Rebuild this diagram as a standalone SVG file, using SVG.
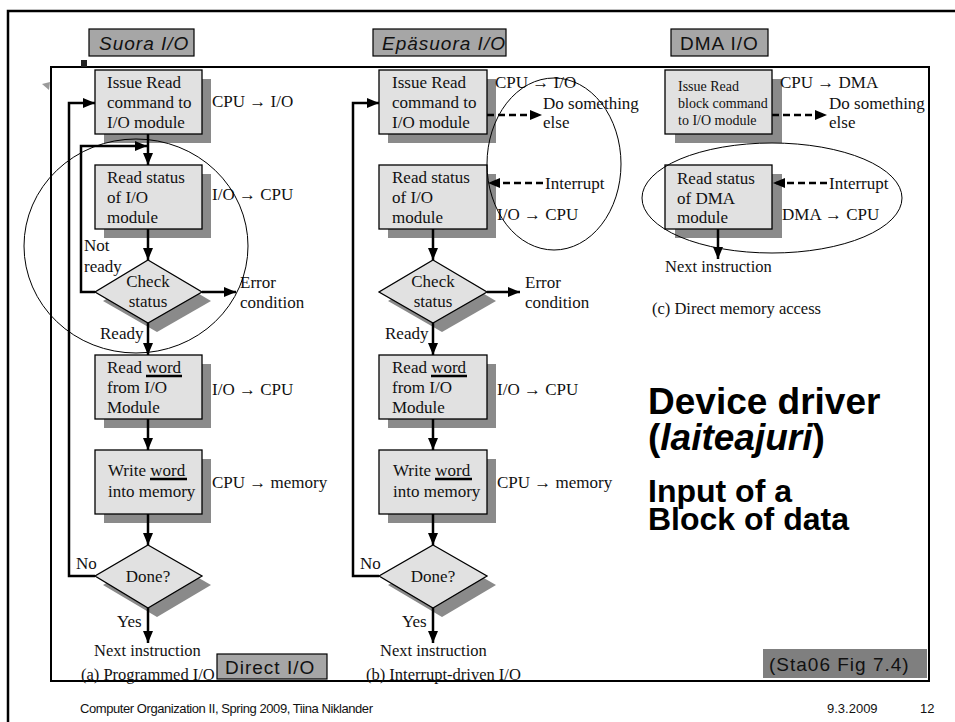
<svg xmlns="http://www.w3.org/2000/svg" width="955" height="722" viewBox="0 0 955 722">
  <style>
    .box { fill: #e1e1e1; stroke: #000; stroke-width: 1.3; }
    .shadow { fill: #8a8a8a; }
    .t { font-family: "Liberation Serif", "Times New Roman", serif; font-size: 17px; fill: #111; }
    .ts { font-family: "Liberation Serif", "Times New Roman", serif; font-size: 14px; fill: #111; }
    .tm { font-family: "Liberation Serif", "Times New Roman", serif; font-size: 16.5px; fill: #111; }
    .mid { text-anchor: middle; }
    .edge { fill: none; stroke: #000; stroke-width: 2.5; }
    .dash { fill: none; stroke: #000; stroke-width: 2.5; stroke-dasharray: 7 4; }
    .ul { stroke: #000; stroke-width: 2.5; }
    .ring { fill: none; stroke: #000; stroke-width: 1; }
    .tag { fill: #a6a6a6; stroke: #000; stroke-width: 1.2; }
    .tagtext { font-family: "Liberation Sans", Arial, sans-serif; font-size: 19px; fill: #111; letter-spacing: 1px; }
    .big { font-family: "Liberation Sans", Arial, sans-serif; font-weight: bold; fill: #000; }
    .foot { font-family: "Liberation Sans", Arial, sans-serif; font-size: 13px; fill: #111; }
  </style>
  <defs>
    <marker id="arrow" viewBox="0 0 12 10" refX="12" refY="5" markerWidth="12" markerHeight="10" markerUnits="userSpaceOnUse" orient="auto">
      <path d="M0,0 L12,5 L0,10 Z" fill="#000"/>
    </marker>
  </defs>

  <rect width="955" height="722" fill="#fff"/>

  <!-- slide border -->
  <path d="M8,722 V11 H955" fill="none" stroke="#000" stroke-width="2.5"/>
  <!-- figure frame -->
  <rect x="51" y="67" width="878" height="614" fill="none" stroke="#000" stroke-width="2"/>
  <rect x="81" y="60" width="6" height="7" fill="#222"/>
  <polygon points="42,84 50,82 49,90" fill="#9a9a9a"/>

  <!-- section tags -->
  <g id="tag-suora">
    <rect class="tag" x="89" y="29" width="105" height="27"/>
    <text class="tagtext" x="99" y="50" font-style="italic">Suora I/O</text>
  </g>
  <g id="tag-epasuora">
    <rect class="tag" x="373" y="29" width="133" height="27"/>
    <text class="tagtext" x="382" y="50" font-style="italic">Epäsuora I/O</text>
  </g>
  <g id="tag-dma">
    <rect class="tag" x="671" y="29" width="97" height="27"/>
    <text class="tagtext" x="680" y="50">DMA I/O</text>
  </g>
  <g id="tag-direct">
    <rect class="tag" x="217" y="654" width="110" height="25"/>
    <text class="tagtext" x="225" y="674">Direct I/O</text>
  </g>

  <!-- (a) programmed I/O -->
  <g id="a-issue">
    <rect class="shadow" x="104" y="79" width="107" height="64"/>
    <rect class="box" x="95" y="70" width="107" height="64"/>
    <text class="t" x="107" y="88">Issue Read</text>
    <text class="t" x="107" y="108">command to</text>
    <text class="t" x="107" y="128">I/O module</text>
  </g>
  <g id="a-status">
    <rect class="shadow" x="104" y="174" width="107" height="64"/>
    <rect class="box" x="95" y="165" width="107" height="64"/>
    <text class="t" x="107" y="183">Read status</text>
    <text class="t" x="107" y="203">of I/O</text>
    <text class="t" x="107" y="223">module</text>
  </g>
  <g id="a-check">
    <polygon class="shadow" points="157,269 211,301 157,332 103,301"/>
    <polygon class="box" points="148,260 202,292 148,323 95,292"/>
    <text class="t mid" x="148" y="287">Check</text>
    <text class="t mid" x="148" y="307">status</text>
  </g>
  <g id="a-readword">
    <rect class="shadow" x="104" y="364" width="107" height="64"/>
    <rect class="box" x="95" y="355" width="107" height="64"/>
    <text class="t" x="107" y="373">Read word</text>
    <line class="ul" x1="146" y1="376" x2="182" y2="376"/>
    <text class="t" x="107" y="393">from I/O</text>
    <text class="t" x="107" y="413">Module</text>
  </g>
  <g id="a-writeword">
    <rect class="shadow" x="104" y="459" width="107" height="64"/>
    <rect class="box" x="95" y="450" width="107" height="64"/>
    <text class="t" x="108" y="476">Write word</text>
    <line class="ul" x1="150" y1="479" x2="187" y2="479"/>
    <text class="t" x="108" y="497">into memory</text>
  </g>
  <g id="a-done">
    <polygon class="shadow" points="157,554 211,585 157,617 103,585"/>
    <polygon class="box" points="148,545 202,576 148,608 95,576"/>
    <text class="t mid" x="148" y="582">Done?</text>
  </g>

  <!-- (b) interrupt-driven I/O -->
  <g id="b-issue">
    <rect class="shadow" x="388" y="79" width="108" height="64"/>
    <rect class="box" x="379" y="70" width="108" height="64"/>
    <text class="t" x="392" y="88">Issue Read</text>
    <text class="t" x="392" y="108">command to</text>
    <text class="t" x="392" y="128">I/O module</text>
  </g>
  <g id="b-status">
    <rect class="shadow" x="388" y="174" width="108" height="64"/>
    <rect class="box" x="379" y="165" width="108" height="64"/>
    <text class="t" x="392" y="183">Read status</text>
    <text class="t" x="392" y="203">of I/O</text>
    <text class="t" x="392" y="223">module</text>
  </g>
  <g id="b-check">
    <polygon class="shadow" points="442,269 496,301 442,332 388,301"/>
    <polygon class="box" points="433,260 487,292 433,323 379,292"/>
    <text class="t mid" x="433" y="287">Check</text>
    <text class="t mid" x="433" y="307">status</text>
  </g>
  <g id="b-readword">
    <rect class="shadow" x="388" y="364" width="108" height="64"/>
    <rect class="box" x="379" y="355" width="108" height="64"/>
    <text class="t" x="392" y="373">Read word</text>
    <line class="ul" x1="431" y1="376" x2="467" y2="376"/>
    <text class="t" x="392" y="393">from I/O</text>
    <text class="t" x="392" y="413">Module</text>
  </g>
  <g id="b-writeword">
    <rect class="shadow" x="388" y="459" width="108" height="64"/>
    <rect class="box" x="379" y="450" width="108" height="64"/>
    <text class="t" x="393" y="476">Write word</text>
    <line class="ul" x1="435" y1="479" x2="472" y2="479"/>
    <text class="t" x="393" y="497">into memory</text>
  </g>
  <g id="b-done">
    <polygon class="shadow" points="442,554 496,585 442,617 388,585"/>
    <polygon class="box" points="433,545 487,576 433,608 379,576"/>
    <text class="t mid" x="433" y="582">Done?</text>
  </g>

  <!-- (c) direct memory access -->
  <g id="c-issue">
    <rect class="shadow" x="675" y="79" width="107" height="64"/>
    <rect class="box" x="665" y="70" width="107" height="64"/>
    <text class="ts" x="678" y="91">Issue Read</text>
    <text class="ts" x="678" y="108">block command</text>
    <text class="ts" x="678" y="125">to I/O module</text>
  </g>
  <g id="c-status">
    <rect class="shadow" x="675" y="174" width="107" height="64"/>
    <rect class="box" x="665" y="165" width="107" height="64"/>
    <text class="t" x="677" y="184">Read status</text>
    <text class="t" x="677" y="204">of DMA</text>
    <text class="t" x="677" y="223">module</text>
  </g>

  <!-- connectors -->
  <g id="connectors">
    <!-- column a -->
    <line class="edge" x1="148" y1="134" x2="148" y2="165" marker-end="url(#arrow)"/>
    <path class="edge" d="M95,292 H81 V146 H147" marker-end="url(#arrow)"/>
    <line class="edge" x1="148" y1="229" x2="148" y2="260" marker-end="url(#arrow)"/>
    <line class="edge" x1="202" y1="292" x2="236" y2="292" marker-end="url(#arrow)"/>
    <line class="edge" x1="148" y1="323" x2="148" y2="355" marker-end="url(#arrow)"/>
    <line class="edge" x1="148" y1="419" x2="148" y2="450" marker-end="url(#arrow)"/>
    <line class="edge" x1="148" y1="514" x2="148" y2="545" marker-end="url(#arrow)"/>
    <path class="edge" d="M95,576 H69 V103 H95" marker-end="url(#arrow)"/>
    <line class="edge" x1="148" y1="608" x2="148" y2="643" marker-end="url(#arrow)"/>
    <!-- column b -->
    <line class="dash" x1="487" y1="115" x2="542" y2="115" marker-end="url(#arrow)"/>
    <line class="dash" x1="543" y1="183" x2="488" y2="183" marker-end="url(#arrow)"/>
    <line class="edge" x1="433" y1="229" x2="433" y2="260" marker-end="url(#arrow)"/>
    <line class="edge" x1="487" y1="292" x2="520" y2="292" marker-end="url(#arrow)"/>
    <line class="edge" x1="433" y1="323" x2="433" y2="355" marker-end="url(#arrow)"/>
    <line class="edge" x1="433" y1="419" x2="433" y2="450" marker-end="url(#arrow)"/>
    <line class="edge" x1="433" y1="514" x2="433" y2="545" marker-end="url(#arrow)"/>
    <path class="edge" d="M379,576 H353 V103 H379" marker-end="url(#arrow)"/>
    <line class="edge" x1="433" y1="608" x2="433" y2="643" marker-end="url(#arrow)"/>
    <!-- column c -->
    <line class="dash" x1="772" y1="115" x2="827" y2="115" marker-end="url(#arrow)"/>
    <line class="dash" x1="827" y1="183" x2="773" y2="183" marker-end="url(#arrow)"/>
    <line class="edge" x1="718" y1="229" x2="718" y2="259" marker-end="url(#arrow)"/>
  </g>

  <!-- labels, column a -->
  <g id="a-labels">
    <text class="t" x="212" y="107">CPU → I/O</text>
    <text class="t" x="212" y="200">I/O → CPU</text>
    <text class="t" x="84" y="251">Not</text>
    <text class="t" x="84" y="272">ready</text>
    <text class="t" x="240" y="288">Error</text>
    <text class="t" x="240" y="308">condition</text>
    <text class="t" x="100" y="339">Ready</text>
    <text class="t" x="212" y="395">I/O → CPU</text>
    <text class="t" x="212" y="488">CPU → memory</text>
    <text class="t" x="76" y="569">No</text>
    <text class="t" x="117" y="627">Yes</text>
    <text class="tm" x="94" y="656">Next instruction</text>
    <text class="tm" x="81" y="680">(a) Programmed I/O</text>
  </g>

  <!-- labels, column b -->
  <g id="b-labels">
    <text class="t" x="495" y="88">CPU → I/O</text>
    <text class="t" x="543" y="109">Do something</text>
    <text class="t" x="543" y="128">else</text>
    <text class="t" x="545" y="189">Interrupt</text>
    <text class="t" x="497" y="220">I/O → CPU</text>
    <text class="t" x="525" y="288">Error</text>
    <text class="t" x="525" y="308">condition</text>
    <text class="t" x="385" y="339">Ready</text>
    <text class="t" x="497" y="395">I/O → CPU</text>
    <text class="t" x="497" y="488">CPU → memory</text>
    <text class="t" x="360" y="569">No</text>
    <text class="t" x="402" y="627">Yes</text>
    <text class="tm" x="380" y="656">Next instruction</text>
    <text class="tm" x="366" y="680">(b) Interrupt-driven I/O</text>
  </g>

  <!-- labels, column c -->
  <g id="c-labels">
    <text class="t" x="780" y="88">CPU → DMA</text>
    <text class="t" x="829" y="109">Do something</text>
    <text class="t" x="829" y="128">else</text>
    <text class="t" x="829" y="189">Interrupt</text>
    <text class="t" x="782" y="220">DMA → CPU</text>
    <text class="tm" x="665" y="272">Next instruction</text>
    <text class="tm" x="652" y="314">(c) Direct memory access</text>
  </g>

  <!-- highlight rings -->
  <g id="rings">
    <ellipse class="ring" cx="136" cy="246" rx="112" ry="107"/>
    <ellipse class="ring" cx="554" cy="164" rx="67" ry="86"/>
    <ellipse class="ring" cx="772" cy="198" rx="130" ry="55"/>
  </g>

  <!-- title text -->
  <g id="title">
    <text class="big" x="648" y="414" font-size="37">Device driver</text>
    <text class="big" x="648" y="450" font-size="37">(<tspan font-style="italic">laiteajuri</tspan>)</text>
    <text class="big" x="648" y="502" font-size="32">Input of a</text>
    <text class="big" x="648" y="530" font-size="32">Block of data</text>
  </g>

  <g id="source-tag">
    <rect x="763" y="649" width="164" height="29" fill="#7f7f7f"/>
    <text class="tagtext" x="769" y="671" font-size="21" letter-spacing="0.5">(Sta06 Fig 7.4)</text>
  </g>

  <!-- footer -->
  <text class="foot" x="80" y="713" textLength="293">Computer Organization II, Spring 2009, Tiina Niklander</text>
  <text class="foot" x="827" y="713">9.3.2009</text>
  <text class="foot" x="920" y="713">12</text>
</svg>
